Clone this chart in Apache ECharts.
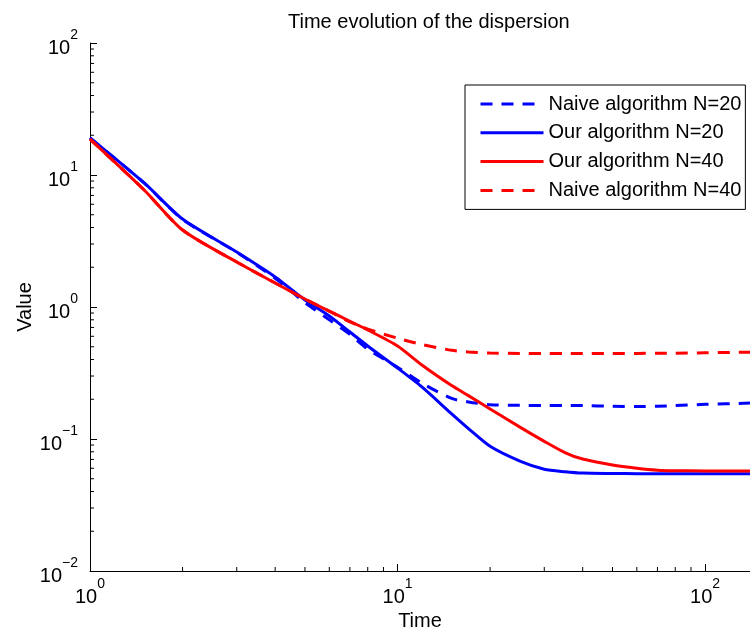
<!DOCTYPE html>
<html><head><meta charset="utf-8">
<script src="https://cdn.jsdelivr.net/npm/echarts@6/dist/echarts.min.js"></script>
<style>html,body{margin:0;padding:0;background:#fff}#c{width:750px;height:628px}</style>
</head><body><div id="c"></div>
<script>
const tVals   = [1, 1.5, 2, 3, 4, 5, 6, 7, 8, 10, 12, 15, 17, 20, 25, 30, 35, 40, 50, 60, 70, 80, 100, 140];
const naive20 = [19.1, 8.7, 4.6, 2.6, 1.65, 1.08, 0.80, 0.62, 0.48, 0.35, 0.265, 0.203, 0.191, 0.182, 0.180, 0.179, 0.179, 0.179, 0.177, 0.176, 0.177, 0.179, 0.183, 0.187];
const our20   = [19.1, 8.7, 4.64, 2.61, 1.69, 1.13, 0.855, 0.647, 0.507, 0.345, 0.248, 0.155, 0.120, 0.088, 0.068, 0.059, 0.0565, 0.0552, 0.0548, 0.0546, 0.0546, 0.0546, 0.0546, 0.0546];
const our40   = [18.7, 7.7, 3.83, 2.19, 1.52, 1.15, 0.93, 0.78, 0.67, 0.507, 0.364, 0.254, 0.213, 0.169, 0.123, 0.096, 0.079, 0.0705, 0.0635, 0.060, 0.058, 0.0575, 0.0573, 0.0572];
const naive40 = [18.7, 7.7, 3.83, 2.19, 1.52, 1.15, 0.93, 0.77, 0.68, 0.58, 0.52, 0.47, 0.456, 0.448, 0.445, 0.445, 0.445, 0.445, 0.445, 0.445, 0.446, 0.447, 0.45, 0.455];
const seriesNames = ['Naive algorithm N=20', 'Our algorithm N=20', 'Our algorithm N=40', 'Naive algorithm N=40'];
const xMinor = [2,3,4,5,6,7,8,9,20,30,40,50,60,70,80,90];
const yMinor = [0.02,0.03,0.04,0.05,0.06,0.07,0.08,0.09,0.2,0.3,0.4,0.5,0.6,0.7,0.8,0.9,2,3,4,5,6,7,8,9,20,30,40,50,60,70,80,90];

const FONT = '"Liberation Sans", Arial, Helvetica, sans-serif';
function pow10Label(v) {
  const l = Math.log10(v), e = Math.round(l);
  if (Math.abs(l - e) > 1e-6) return '';
  return '{b|10}{s|' + (e < 0 ? '\u2212' + (-e) : e) + '}';
}
const richLbl = {
  b: {fontSize: 20, fontFamily: FONT, color: '#000', lineHeight: 30, verticalAlign: 'bottom'},
  s: {fontSize: 14, fontFamily: FONT, color: '#000', lineHeight: 14, verticalAlign: 'top'}
};
const pair = arr => tVals.map((t, i) => [t, arr[i]]);
function lineSeries(name, data, color, dashed) {
  return {name, type: 'line', data: pair(data), symbol: 'none', showSymbol: false,
    smooth: 0.25,
    lineStyle: {color, width: 3, type: dashed ? [12, 9] : 'solid'}, itemStyle: {color}};
}
const chart = echarts.init(document.getElementById('c'));
chart.setOption({
  animation: false,
  backgroundColor: '#fff',
  title: {text: 'Time evolution of the dispersion', left: 283, top: 7,
    textStyle: {fontFamily: FONT, fontSize: 20, fontWeight: 'normal', color: '#000'}},
  grid: {left: 90, top: 43, right: 0, bottom: 57, containLabel: false, outerBoundsMode: 'none'},
  legend: {data: seriesNames, orient: 'vertical', left: 465, top: 85,
    padding: [9, 4, 9, 14], itemGap: 8.8, itemWidth: 63, itemHeight: 20,
    itemStyle: {opacity: 0}, lineStyle: {width: 3},
    backgroundColor: '#fff', borderColor: '#000', borderWidth: 1,
    textStyle: {fontFamily: FONT, fontSize: 20, color: '#000', lineHeight: 20}},
  xAxis: {type: 'log', logBase: 10, min: 1, max: 140, name: 'Time', nameLocation: 'middle', nameGap: 40,
    nameMoveOverlap: false,
    nameTextStyle: {fontFamily: FONT, fontSize: 20, color: '#000'},
    axisLine: {lineStyle: {color: '#000', width: 1}},
    axisTick: {inside: true, length: 7, lineStyle: {color: '#000'}},
    axisLabel: {formatter: pow10Label, rich: richLbl, margin: 6, showMaxLabel: false},
    splitLine: {show: false}},
  yAxis: {type: 'log', logBase: 10, min: 0.01, max: 100, name: 'Value', nameLocation: 'middle', nameGap: 55,
    nameMoveOverlap: false,
    nameTextStyle: {fontFamily: FONT, fontSize: 20, color: '#000'},
    axisLine: {lineStyle: {color: '#000', width: 1}},
    axisTick: {inside: true, length: 7, lineStyle: {color: '#000'}},
    axisLabel: {formatter: pow10Label, rich: richLbl, margin: 12},
    splitLine: {show: false}},
  series: [
    lineSeries(seriesNames[0], naive20, '#0000ff', true),
    lineSeries(seriesNames[1], our20, '#0000ff', false),
    lineSeries(seriesNames[2], our40, '#ff0000', false),
    lineSeries(seriesNames[3], naive40, '#ff0000', true),
    {type: 'custom', silent: true, clip: false, z: 1,
      data: xMinor.map(v => [v, 0.01]),
      renderItem: (p, api) => { const c = api.coord([api.value(0), api.value(1)]);
        return {type: 'line', shape: {x1: c[0], y1: c[1], x2: c[0], y2: c[1] - 4}, style: {stroke: '#000', lineWidth: 1}}; }},
    {type: 'custom', silent: true, clip: false, z: 1,
      data: yMinor.map(v => [1, v]),
      renderItem: (p, api) => { const c = api.coord([api.value(0), api.value(1)]);
        return {type: 'line', shape: {x1: c[0], y1: c[1], x2: c[0] + 4, y2: c[1]}, style: {stroke: '#000', lineWidth: 1}}; }}
  ]
});
</script></body></html>
